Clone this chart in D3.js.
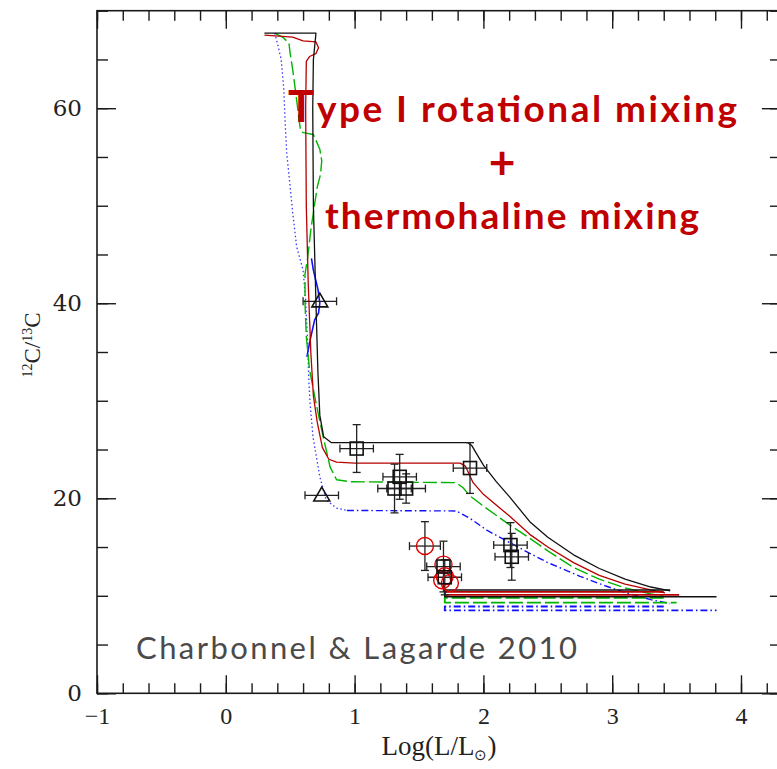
<!DOCTYPE html>
<html><head><meta charset="utf-8">
<script src="https://cdn.jsdelivr.net/npm/d3@7/dist/d3.min.js"></script>
<style>html,body{margin:0;padding:0;background:#fff;overflow:hidden}</style>
</head><body>
<svg id="c" width="777" height="769"></svg>
<script>
// ---------- data ----------
const xTickValues = [-1, 0, 1, 2, 3, 4];
const xTickLabels = ["\u22121", "0", "1", "2", "3", "4"];
const yTickValues = [0, 20, 40, 60];
const yTickLabels = ["0", "20", "40", "60"];

// Type I rotational + thermohaline tracks: [logL, 12C/13C]
const blackTrack = [[0.30,67.7],[0.70,67.7],[0.68,65],[0.675,60],[0.68,50],[0.70,40],[0.715,33],[0.73,28.5],[0.76,26.3],[0.82,25.7],[1.88,25.7],[1.91,25.4],[1.95,24.5],[2.0,23.4],[2.1,21.7],[2.2,20.2],[2.36,17.6],[2.5,16.0],[2.7,14.2],[2.9,12.8],[3.1,11.7],[3.3,10.9],[3.45,10.5]];
const blackLower = [[3.45,10.6],[1.70,10.6],[1.70,9.9],[3.81,9.9]];
const redTrack = [[0.30,67.5],[0.52,67.3],[0.60,66.9],[0.70,66.8],[0.72,66.2],[0.70,65.6],[0.65,65.3],[0.625,64.8],[0.62,60],[0.625,50],[0.64,42],[0.66,35],[0.68,30.5],[0.71,27.8],[0.75,25.2],[0.80,24.0],[0.86,23.7],[1.0,23.6],[1.82,23.6],[1.86,23.3],[1.92,21.6],[2.0,20.4],[2.2,18.2],[2.36,16.3],[2.5,15.0],[2.7,13.4],[2.9,12.1],[3.1,11.2],[3.3,10.6],[3.41,10.3]];
const redLower = [[3.40,10.4],[1.70,10.4],[1.70,10.1],[3.52,10.1]];
const greenTrack = [[0.38,67.7],[0.44,67.3],[0.49,66.7],[0.50,65.6],[0.52,63.9],[0.53,62.9],[0.56,59.8],[0.58,57.7],[0.60,57.5],[0.68,57.3],[0.73,55.8],[0.745,54.6],[0.735,53.2],[0.71,51.9],[0.69,50.2],[0.66,47.5],[0.635,44.6],[0.615,43.0],[0.615,40],[0.625,36.6],[0.65,33.2],[0.70,29.8],[0.756,26.3],[0.81,23.2],[0.86,21.9],[0.96,21.7],[1.79,21.6],[1.84,21.1],[1.90,20.2],[2.0,19.2],[2.2,17.3],[2.36,15.9],[2.5,14.6],[2.7,12.9],[2.9,11.7],[3.1,10.8],[3.3,10.2],[3.40,9.95]];
const greenLower = [[3.40,9.8],[1.70,9.8],[1.70,9.3],[3.50,9.3]];
const blueSteep = [[0.38,67.7],[0.40,66.7],[0.43,65.0],[0.45,62.0],[0.46,58.8],[0.473,55.4],[0.50,51.9],[0.52,49.2],[0.55,45.8],[0.60,43.4],[0.62,40.3],[0.635,36],[0.645,32],[0.654,29.8],[0.677,26.3],[0.73,22.2],[0.78,19.8],[0.86,19.0],[0.94,18.75]];
const blueTrack = [[0.94,18.75],[1.79,18.7],[1.90,17.9],[2.03,16.7],[2.31,14.7],[2.5,13.4],[2.75,12.0],[2.95,11.0],[3.11,10.3],[3.30,9.6],[3.45,9.2]];
const blueWiggle = [[0.665,44.6],[0.68,43.4],[0.716,41.4],[0.73,40.0],[0.72,39.0],[0.69,38.3],[0.654,36.2],[0.63,34.5]];
const blueLower = [[3.40,8.9],[1.70,8.9],[1.70,8.5],[3.81,8.5]];

// observations: logL, ratio, error in logL, error in ratio
const squareX  = [1.016, 1.896, 1.35, 1.31, 1.40, 2.21, 2.22, 1.69, 1.70];
const squareY  = [25.1, 23.1, 22.2, 21.0, 21.0, 15.2, 14.0, 13.0, 11.9];
const squareEX = [0.13, 0.13, 0.13, 0.13, 0.15, 0.13, 0.13, 0.13, 0.13];
const squareEY = [2.45, 2.6, 2.3, 2.5, 1.5, 2.3, 2.4, 2.6, 1.8];
const triangleX  = [0.73, 0.745];
const triangleY  = [40.2, 20.3];
const triangleEX = [0.13, 0.13];
const circleX  = [1.546, 1.69, 1.70, 1.74, 1.68];
const circleY  = [15.1, 13.2, 12.0, 11.3, 11.6];
const circleEX = [0.12, 0.0, 0.0, 0.0, 0.0];
const circleEY = [2.5, 0.0, 0.0, 0.0, 0.0];

const titleLines = ["Type I rotational mixing", "+", "thermohaline mixing"];
const creditText = "Charbonnel & Lagarde 2010";

// ---------- drawing ----------
const svg = d3.select("#c");
const x = d3.scaleLinear().domain([-1, 4.31]).range([97, 97 + 5.31 * 128.8]);
const y = d3.scaleLinear().domain([0, 70]).range([693.3, 10.7]);
const X0 = x.range()[0], X1 = x.range()[1], Y0 = y.range()[0], Y1 = y.range()[1];

const axisColor = "#1a1a1a";
const minorX = d3.range(-1, 4.31, 0.2).map(v => +v.toFixed(2));
const minorY = d3.range(0, 70.01, 5);

function styleAxis(g){ g.select(".domain").remove(); g.selectAll(".tick line").attr("stroke", axisColor).attr("stroke-width", 1.4); }

svg.append("g").attr("transform", `translate(0,${Y0})`)
  .call(d3.axisBottom(x).tickValues(minorX).tickSize(-10).tickFormat("")).call(styleAxis);
svg.append("g").attr("transform", `translate(0,${Y0})`)
  .call(d3.axisBottom(x).tickValues(xTickValues).tickSize(-18).tickPadding(14).tickFormat((d,i)=>xTickLabels[i])).call(styleAxis)
  .selectAll("text").attr("font-family","Liberation Serif").attr("font-size",24).attr("fill","#222");
svg.append("g").attr("transform", `translate(0,${Y1})`)
  .call(d3.axisTop(x).tickValues(minorX).tickSize(-10).tickFormat("")).call(styleAxis);
svg.append("g").attr("transform", `translate(0,${Y1})`)
  .call(d3.axisTop(x).tickValues(xTickValues).tickSize(-18).tickFormat("")).call(styleAxis);

svg.append("g").attr("transform", `translate(${X0},0)`)
  .call(d3.axisLeft(y).tickValues(minorY).tickSize(-11).tickFormat("")).call(styleAxis);
svg.append("g").attr("transform", `translate(${X0},0)`)
  .call(d3.axisLeft(y).tickValues(yTickValues).tickSize(-19).tickPadding(15).tickFormat((d,i)=>yTickLabels[i])).call(styleAxis)
  .selectAll("text").attr("font-family","DejaVu Serif").attr("font-size",23).attr("fill","#222");
svg.append("g").attr("transform", `translate(${X1},0)`)
  .call(d3.axisRight(y).tickValues(minorY).tickSize(-11).tickFormat("")).call(styleAxis);
svg.append("g").attr("transform", `translate(${X1},0)`)
  .call(d3.axisRight(y).tickValues(yTickValues).tickSize(-19).tickFormat("")).call(styleAxis);

svg.append("rect").attr("x", X0).attr("y", Y1).attr("width", X1 - X0).attr("height", Y0 - Y1)
  .attr("fill", "none").attr("stroke", axisColor).attr("stroke-width", 1.6);

// axis titles
const xt = svg.append("text").attr("x", 439).attr("y", 755).attr("text-anchor","middle")
  .attr("font-family","Liberation Serif").attr("font-size",27).attr("fill","#222");
xt.append("tspan").text("Log(L/L");
xt.append("tspan").text("\u2299").attr("font-size",15).attr("dy",5);
xt.append("tspan").text(")").attr("dy",-5);

const yt = svg.append("text").attr("transform","translate(40,345) rotate(-90)").attr("text-anchor","middle")
  .attr("font-family","Liberation Serif").attr("font-size",23).attr("fill","#222");
yt.append("tspan").text("12").attr("font-size",14).attr("dy",-8);
yt.append("tspan").text("C/").attr("dy",8);
yt.append("tspan").text("13").attr("font-size",14).attr("dy",-8);
yt.append("tspan").text("C").attr("dy",8);

// tracks
const line = d3.line().x(d => x(d[0])).y(d => y(d[1]));
const plot = svg.append("g");
function track(data, color, width, dash, opacity){
  plot.append("path").attr("d", line(data)).attr("fill","none").attr("stroke", color)
    .attr("stroke-width", width).attr("stroke-dasharray", dash || null).attr("stroke-opacity", opacity || 1)
    .attr("stroke-linejoin","round");
}
track(blueSteep, "#3a3aff", 1.3, "1.5,2.5");
track(blueTrack, "#1010ff", 1.4, "7,3,1.5,3");
track(blueWiggle, "#1010ff", 1.6);
track(blueLower, "#1010ff", 1.8, "7,3,1.5,3");
track(greenTrack, "#00b400", 1.4, "14,4");
track(greenLower, "#00b400", 1.8, "14,4");
track(redTrack, "#b80000", 1.3);
track(redLower, "#b80000", 1.8);
track(blackTrack, "#111", 1.3);
track(blackLower, "#111", 1.6);

// error bars
const eb = svg.append("g").attr("stroke","#222").attr("stroke-width",1.3).attr("fill","none");
function errBar(cx, cy, ex, ey){
  if (ex > 0){
    eb.append("line").attr("x1", x(cx-ex)).attr("x2", x(cx+ex)).attr("y1", y(cy)).attr("y2", y(cy));
    [cx-ex, cx+ex].forEach(v => eb.append("line").attr("x1", x(v)).attr("x2", x(v)).attr("y1", y(cy)-4).attr("y2", y(cy)+4));
  }
  if (ey > 0){
    eb.append("line").attr("x1", x(cx)).attr("x2", x(cx)).attr("y1", y(cy-ey)).attr("y2", y(cy+ey));
    [cy-ey, cy+ey].forEach(v => eb.append("line").attr("x1", x(cx)-4).attr("x2", x(cx)+4).attr("y1", y(v)).attr("y2", y(v)));
  }
}
squareX.forEach((v,i) => errBar(v, squareY[i], squareEX[i], squareEY[i]));
triangleX.forEach((v,i) => errBar(v, triangleY[i], triangleEX[i], 0));
circleX.forEach((v,i) => errBar(v, circleY[i], circleEX[i], circleEY[i]));

const mk = svg.append("g");
circleX.forEach((v,i) => mk.append("circle").attr("cx", x(v)).attr("cy", y(circleY[i])).attr("r", 8.5)
  .attr("fill","none").attr("stroke","#e00000").attr("stroke-width",1.4));
squareX.forEach((v,i) => mk.append("rect").attr("x", x(v)-6.5).attr("y", y(squareY[i])-6.5).attr("width",13).attr("height",13)
  .attr("fill","none").attr("stroke","#111").attr("stroke-width",1.6));
triangleX.forEach((v,i) => mk.append("path").attr("d", d3.symbol(d3.symbolTriangle, 110)())
  .attr("transform", `translate(${x(v)},${y(triangleY[i])+1})`)
  .attr("fill","none").attr("stroke","#111").attr("stroke-width",1.6));

// annotation text
const red = "#c00000";
const t1 = svg.append("text").attr("x", 288).attr("y", 122).attr("font-family","Lato").attr("font-weight","bold")
  .attr("fill", red).attr("font-size",37).attr("textLength", 449).attr("lengthAdjust","spacing");
t1.append("tspan").text(titleLines[0].slice(0,1)).attr("font-size",44);
t1.append("tspan").text(titleLines[0].slice(1));
svg.append("text").attr("x", 502).attr("y", 179).attr("text-anchor","middle").attr("font-family","Lato")
  .attr("font-weight","bold").attr("font-size",46).attr("fill", red).text(titleLines[1]);
svg.append("text").attr("x", 325).attr("y", 229).attr("font-family","Lato").attr("font-weight","bold")
  .attr("font-size",37).attr("fill", red).attr("textLength", 374).attr("lengthAdjust","spacing").text(titleLines[2]);
svg.append("text").attr("x", 136).attr("y", 659).attr("font-family","Lato")
  .attr("font-size",31).attr("fill","#4a4a4a").attr("textLength", 441).attr("lengthAdjust","spacing").text(creditText);
</script>
</body></html>
